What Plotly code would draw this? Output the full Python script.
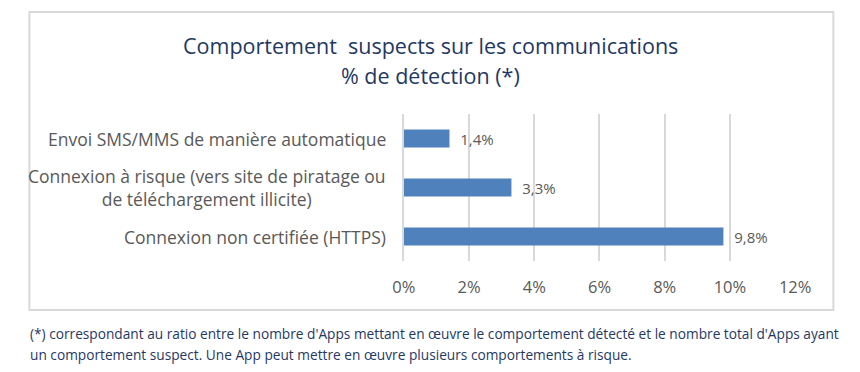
import plotly.graph_objects as go

categories = [
    "Envoi SMS/MMS de manière automatique",
    "Connexion à risque (vers site de piratage ou<br>de téléchargement illicite)",
    "Connexion non certifiée (HTTPS)",
]
values = [0.014, 0.033, 0.098]
x_ticks = [0, 0.02, 0.04, 0.06, 0.08, 0.10, 0.12]
title_lines = [
    "Comportement  suspects sur les communications",
    "% de détection (*)",
]
footnote_lines = [
    "(*) correspondant au ratio entre le nombre d'Apps mettant en œuvre le comportement détecté et le nombre total d'Apps ayant",
    "un comportement suspect. Une App peut mettre en œuvre plusieurs comportements à risque.",
]

W, H = 860, 372
FONT = "Open Sans"
GRAY = "#595959"
NAVY = "#1F3864"

def px_x(p):
    return p / W

def px_y(p):
    return (H - p) / H

fig = go.Figure()
fig.add_trace(go.Bar(
    y=categories,
    x=values,
    orientation="h",
    marker=dict(color="#4F81BD", line=dict(width=0)),
    texttemplate="\u00a0\u00a0%{x:.1%}",
    textposition="outside",
    constraintext="none",
    textfont=dict(family=FONT, size=15, color=GRAY),
    cliponaxis=False,
    hoverinfo="skip",
))

annotations = []
for c in categories:
    annotations.append(dict(
        x=px_x(389), xref="paper", y=c, yref="y",
        text=c, showarrow=False, xanchor="right", yanchor="middle",
        align="center", font=dict(family=FONT, size=17.5, color=GRAY),
    ))
for i, line in enumerate(title_lines):
    annotations.append(dict(
        x=px_x(433), xref="paper", y=px_y(45 + 30 * i), yref="paper",
        text=line, showarrow=False, xanchor="center", yanchor="middle",
        align="center", font=dict(family=FONT, size=21.5, color=NAVY),
    ))
for i, line in enumerate(footnote_lines):
    annotations.append(dict(
        x=px_x(17), xref="paper", y=px_y(333 + 21 * i), yref="paper",
        text=line, showarrow=False, xanchor="left", yanchor="middle",
        align="left", font=dict(family=FONT, size=13.7, color=NAVY),
    ))

fig.update_layout(
    width=W, height=H, autosize=False,
    margin=dict(l=0, r=0, t=0, b=0),
    paper_bgcolor="white", plot_bgcolor="white",
    separators=", ",
    showlegend=False,
    bargap=0.63,
    annotations=annotations,
    shapes=[dict(
        type="rect", xref="paper", yref="paper",
        x0=px_x(18), x1=px_x(849), y0=px_y(310), y1=px_y(12),
        line=dict(color="#D9D9D9", width=2), fillcolor="rgba(0,0,0,0)",
        layer="below",
    )],
    xaxis=dict(
        domain=[px_x(405), px_x(809.5)],
        range=[0, 0.12],
        tickvals=x_ticks,
        tickformat=".0%",
        showgrid=True, gridcolor="#D9D9D9", gridwidth=2,
        zeroline=False, showline=False,
        ticks="", ticklabelstandoff=14,
        tickfont=dict(family=FONT, size=16.5, color=GRAY),
        fixedrange=True,
    ),
    yaxis=dict(
        domain=[px_y(261), px_y(114)],
        autorange="reversed",
        showticklabels=False,
        showgrid=False, zeroline=False,
        showline=True, linecolor="#D9D9D9", linewidth=2,
        ticks="",
        fixedrange=True,
    ),
)

fig.write_html(
    "out.html",
    config={"displayModeBar": False, "responsive": False},
    post_script=(
        "document.documentElement.style.overflow='hidden';"
        "document.body.style.overflow='hidden';"
        "document.body.style.margin='0';document.body.style.padding='0';"
    ),
)
